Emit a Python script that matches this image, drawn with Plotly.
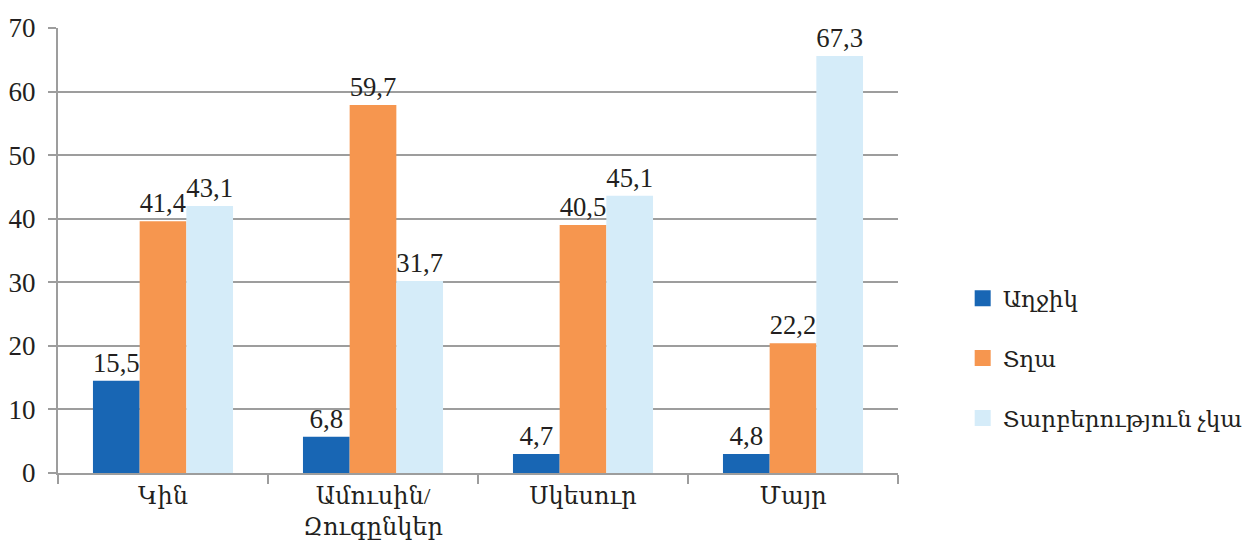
import plotly.graph_objects as go

categories = ["Կին", "Ամուսին/<br>Զուգընկեր", "Սկեսուր", "Մայր"]
series_names = ["Աղջիկ", "Տղա", "Տարբերություն չկա"]

# bar heights as drawn in the picture
girl = [14.5, 5.7, 3.0, 3.0]
boy = [39.6, 57.9, 39.0, 20.4]
no_diff = [42.0, 30.2, 43.6, 65.6]

# printed value labels
girl_labels = ["15,5", "6,8", "4,7", "4,8"]
boy_labels = ["41,4", "59,7", "40,5", "22,2"]
no_diff_labels = ["43,1", "31,7", "45,1", "67,3"]

colors = ["#1866b4", "#f6964f", "#d5ecf9"]
FONT = "Liberation Serif, DejaVu Serif, serif"
TXT = "#231f20"

fig = go.Figure()

for name, vals, labels, col in zip(
    series_names,
    [girl, boy, no_diff],
    [girl_labels, boy_labels, no_diff_labels],
    colors,
):
    fig.add_trace(go.Bar(
        x=categories,
        y=vals,
        name=name,
        text=labels,
        texttemplate="%{text}",
        textposition="outside",
        cliponaxis=False,
        textfont=dict(family=FONT, size=27, color=TXT),
        marker=dict(color=col, line=dict(width=0)),
        showlegend=False,
    ))
    # legend proxy with a bigger square
    fig.add_trace(go.Scatter(
        x=[None],
        y=[None],
        mode="markers",
        name=name,
        legendgroup=name,
        marker=dict(symbol="square", size=18, color=col),
    ))

fig.update_layout(
    barmode="group",
    bargap=0.333,
    bargroupgap=0,
    width=1253,
    height=548,
    margin=dict(l=50, r=363, t=20, b=83, autoexpand=False),
    paper_bgcolor="white",
    plot_bgcolor="white",
    font=dict(family=FONT, size=24, color=TXT),
    xaxis=dict(
        automargin=False,
        showline=True,
        linecolor="#9d9d9d",
        linewidth=2,
        ticks="outside",
        tickson="boundaries",
        ticklen=9,
        tickwidth=2,
        tickcolor="#9d9d9d",
        tickfont=dict(family=FONT, size=24, color=TXT),
        showgrid=False,
    ),
    yaxis=dict(
        automargin=False,
        range=[0, 70],
        dtick=10,
        showline=True,
        linecolor="#9d9d9d",
        linewidth=2,
        ticks="outside",
        ticklen=8,
        tickwidth=2,
        tickcolor="#9d9d9d",
        ticklabelstandoff=7,
        showgrid=True,
        gridcolor="#9d9d9d",
        gridwidth=2,
        zeroline=False,
        tickfont=dict(family=FONT, size=27, color=TXT),
    ),
    legend=dict(
        x=1.077,
        y=0.258,
        xanchor="left",
        yanchor="middle",
        font=dict(family=FONT, size=23, color=TXT),
        tracegroupgap=27,
    ),
    showlegend=True,
)

fig.write_html("out.html")
